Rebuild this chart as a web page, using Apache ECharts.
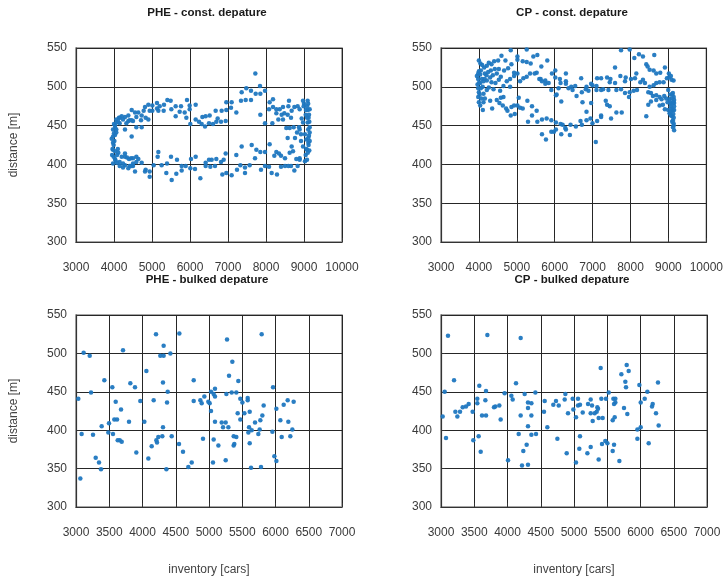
<!DOCTYPE html>
<html>
<head>
<meta charset="utf-8">
<script src="https://cdn.jsdelivr.net/npm/echarts@6/dist/echarts.min.js"></script>
<style>html,body{margin:0;padding:0;background:#fff;}#c{width:726px;height:577px;}</style>
</head>
<body>
<div id="c"></div>
<script>
const titles = ['PHE - const. depature', 'CP - const. depature', 'PHE - bulked depature', 'CP - bulked depature'];
const yName = 'distance [m]';
const xName = 'inventory [cars]';
const yTicks = [300, 350, 400, 450, 500, 550];
const xTicksConst = [3000, 4000, 5000, 6000, 7000, 8000, 9000, 10000];
const xTicksBulk = [3000, 3500, 4000, 4500, 5000, 5500, 6000, 6500, 7000];

const pheConst = [
[5921,483],[6149,477],[5991,476],[5991,471],[5763,475],[5860,467],[5623,475],[5491,482],[5404,483],[5316,477],
[5132,479],[5132,472],[5009,476],[4904,477],[4816,474],[5009,469],[4939,469],[4781,469],[5307,469],[5167,469],
[5202,475],[5623,462],[5728,468],[5904,460],[5509,471],[4465,470],[4553,467],[4640,467],[4728,463],[4588,461],
[4833,460],[4904,458],[4711,457],[4377,463],[4289,461],[4202,462],[4132,460],[4061,458],[4149,453],[4026,450],
[3974,445],[4061,454],[4237,458],[4412,457],[4500,456],[4588,448],[4728,448],[4325,453],[4377,456],[4465,457],
[6009,452],[6149,458],[6237,455],[6325,461],[6412,462],[6518,463],[6675,469],[6728,459],[6833,469],[6956,470],
[6939,456],[6816,455],[6693,455],[6605,452],[6500,453],[6395,449],[6307,452],[6956,480],[7096,480],[7079,473],
[7219,467],[7342,482],[7360,493],[7482,498],[7465,483],[7605,495],[7605,483],[7728,491],[7851,491],[7974,495],
[7842,501],[7719,517],[8096,480],[8184,484],[8184,474],[7851,464],[7974,453],[8167,453],[8079,471],[8272,471],
[8272,466],[8360,471],[8447,474],[8482,466],[8605,482],[8588,475],[8675,469],[8746,474],[8833,475],[8886,471],
[8974,482],[9096,482],[8991,475],[9079,475],[9149,471],[9132,464],[9044,464],[8939,459],[8974,454],[9096,454],
[9149,448],[8570,464],[8447,458],[8325,458],[8412,464],[8658,460],[8535,447],[8623,447],[8728,448],[8868,448],
[8886,445],[8570,434],[8763,434],[8816,441],[8921,439],[9026,439],[9061,432],[9114,428],[9149,441],[9114,434],
[8974,423],[8921,430],[9079,419],[9044,412],[9079,406],[9026,404],[8886,408],[8798,407],[8675,423],[8711,417],
[8623,415],[8500,408],[8395,411],[8342,414],[8272,416],[8219,411],[8096,426],[7974,416],[7851,416],[7746,419],
[7623,425],[7360,423],[7219,412],[6939,414],[6886,406],[6816,403],[6693,407],[6570,406],[6500,406],[6412,402],
[6149,410],[6026,407],[5886,398],[5781,398],[5658,406],[5500,410],[5395,401],[5254,399],[5149,410],[5167,416],
[5044,399],[4939,391],[4939,384],[4833,393],[4728,402],[4588,403],[4640,407],[4588,410],[4500,408],[4447,408],
[4395,407],[4500,401],[4500,398],[4412,398],[4289,399],[4237,401],[4149,403],[4079,402],[4026,407],[3974,401],
[3991,410],[4026,417],[3974,419],[3974,428],[3939,433],[3974,436],[4026,438],[4061,441],[4061,445],[4289,414],
[4289,410],[4342,409],[4465,398],[4377,395],[4237,396],[4149,398],[4553,391],[4816,391],[5377,389],[5518,380],
[5640,388],[5781,392],[6009,395],[6132,394],[6272,382],[6412,398],[6535,397],[6658,398],[6851,387],[6956,389],
[7096,386],[7237,393],[7325,399],[7447,396],[7447,389],[7570,399],[7711,408],[7868,393],[7974,398],[8079,397],
[8149,389],[8289,387],[8395,397],[8500,398],[8588,398],[8658,398],[8746,392],[8833,398],[8886,406],[4465,436],
[4289,445],[4114,415],[4202,410],[3960,420],[3990,425],[4010,430],[4000,440],[3950,412],[4040,405],[4080,412],
[4100,420],[4000,452],[4030,447],[4110,455],[4150,460],[9100,470],[9120,460],[9140,455],[9110,445],[9130,437],
[9120,425],[9140,418],[9100,415],[9060,420],[9150,430],[9080,460],[9050,470],[9000,478],[9110,478]
];

const cpConst = [
[4840,547],[5261,548],[5016,539],[5016,535],[5156,533],[5261,532],[5366,530],[5542,541],[5436,539],[5647,526],
[5804,534],[5524,518],[5629,510],[5752,508],[5840,505],[5927,517],[6015,521],[6015,512],[6137,510],[6155,505],
[6295,517],[6295,507],[6295,504],[6435,500],[6541,501],[6698,511],[6839,500],[6891,495],[6961,504],[7119,511],
[7102,501],[7224,511],[7224,496],[7382,512],[7470,510],[7452,506],[7592,525],[7732,514],[7873,512],[7855,507],
[8013,510],[8118,511],[8153,517],[7750,547],[7978,548],[8101,537],[8223,542],[8328,539],[8627,541],[8416,529],
[8451,526],[8504,522],[8609,521],[8679,517],[8784,518],[8907,525],[9012,517],[9065,514],[9135,508],[9082,509],
[9012,512],[8960,511],[8872,506],[8767,506],[8679,505],[8609,502],[8504,500],[8381,505],[8328,509],[8258,506],
[8171,496],[8083,495],[7978,493],[7960,487],[7855,492],[7750,497],[7627,496],[7592,505],[7417,496],[7277,497],
[7102,496],[6996,502],[6821,497],[6716,493],[6576,488],[6471,496],[6365,498],[5910,496],[6032,489],[6173,481],
[6102,498],[5752,504],[5664,507],[5594,510],[5471,517],[5349,517],[5261,513],[5173,511],[5086,507],[5016,517],
[4928,518],[4928,514],[4823,510],[4823,500],[4735,507],[4648,501],[4560,495],[4525,509],[4437,505],[4578,513],
[4665,521],[4770,524],[4858,529],[4700,534],[4595,540],[4507,534],[4402,533],[4332,529],[4262,531],[4209,527],
[4139,525],[4087,528],[4052,521],[3999,534],[3947,514],[3982,517],[4034,516],[4157,517],[4244,519],[4315,521],
[4420,523],[4525,523],[4472,517],[4367,515],[4297,512],[4209,508],[4122,507],[4034,505],[3964,503],[3982,498],
[3999,493],[3982,487],[3999,480],[4034,476],[4104,470],[4157,485],[4122,491],[4209,496],[4262,499],[4332,506],
[4385,497],[4297,482],[4350,472],[4472,483],[4578,486],[4648,487],[4630,476],[4542,479],[4718,472],[4753,469],
[4840,463],[4858,474],[4928,476],[4946,465],[5016,476],[5086,473],[5156,472],[5051,486],[5279,482],[5401,475],
[5524,469],[5401,463],[5296,455],[5542,455],[5664,458],[5787,459],[5910,457],[5910,442],[6032,454],[6032,445],
[6155,452],[6208,451],[6278,447],[6295,445],[6173,439],[6400,438],[6418,451],[6558,449],[6681,456],[6716,451],
[6839,457],[6944,459],[6996,453],[7119,456],[7224,463],[7224,461],[7347,482],[7382,477],[7452,475],[7487,459],
[7627,467],[7768,467],[7084,429],[5664,439],[5769,432],[5980,442],[6733,480],[6961,479],[6839,468],[6050,490],
[8469,493],[8539,492],[8591,488],[8679,489],[8767,487],[8819,484],[8890,488],[8942,485],[8977,480],[8854,477],
[8767,476],[8679,483],[8539,481],[8469,477],[8416,462],[8907,471],[8995,496],[8995,470],[9030,466],[9065,463],
[9100,462],[9117,457],[9135,453],[9140,450],[9150,444],[9117,492],[9140,487],[9150,483],[9150,479],[9150,475],
[9150,470],[9047,490],[9030,484],[9047,479],[9065,475],[9082,472],[9100,490],[9120,480],[9090,485],[9110,470],
[9130,465],[9080,478],[9100,455],[9120,448],[9060,468],[9140,460],[4000,505],[4050,498],[4080,510],[3980,510],
[4020,490],[4060,485],[4100,500],[4150,510],[4200,515],[4120,480],[4000,520],[4040,530]
];

const pheBulk = [
[4203,525],[4554,526],[5271,518],[5792,525],[3707,504],[4318,510],[3115,501],[3206,497],[4268,497],[4318,497],
[4419,500],[5351,489],[4058,477],[5301,471],[5441,464],[4770,465],[3426,465],[3546,456],[3817,461],[3887,456],
[4308,462],[4379,450],[3226,449],[3035,441],[3597,437],[3967,438],[4168,439],[4369,436],[3677,427],[3576,414],
[3617,414],[3797,411],[4028,411],[3386,405],[3496,409],[4308,404],[3085,395],[3256,394],[3486,397],[3556,395],
[3627,387],[3657,387],[3687,385],[4138,379],[4218,384],[4208,387],[4238,391],[4298,392],[4439,392],[4088,363],
[3907,371],[3296,364],[3346,358],[3376,349],[3065,337],[4359,349],[4549,382],[4609,372],[4689,352],[4740,358],
[4770,438],[4870,439],[4890,435],[4930,444],[4990,437],[5010,435],[5030,450],[5090,454],[5070,447],[5090,444],
[5261,447],[5341,449],[5411,449],[5471,441],[5502,436],[5582,442],[5582,439],[5030,425],[5090,411],[5191,410],
[5251,410],[5211,404],[5291,404],[5431,422],[5471,414],[5532,422],[5612,424],[5602,404],[5592,397],[5642,400],
[5692,410],[5772,413],[5802,419],[5762,401],[5742,395],[5822,432],[6013,428],[5963,456],[6073,413],[6123,433],
[6183,439],[6193,411],[6273,437],[6253,401],[5953,398],[6093,391],[6223,392],[4910,389],[5070,388],[5141,380],
[5251,361],[5060,358],[5371,392],[5411,391],[5371,380],[5381,382],[5612,383],[5632,351],[5782,352],[5983,366],
[6013,360]
];

const cpBulk = [
[3105,523],[3697,524],[4198,520],[5401,481],[5792,485],[5712,473],[5822,477],[5772,463],[5782,456],[5983,459],
[6263,462],[6103,450],[3196,465],[3576,458],[4128,461],[3055,450],[3677,451],[3957,448],[4058,445],[4078,440],
[4258,447],[4419,449],[4870,447],[3546,441],[3546,435],[3667,439],[3416,434],[3376,431],[3326,430],[3797,430],
[3817,431],[3877,432],[4308,436],[4359,435],[4308,429],[4559,438],[4729,438],[4689,433],[4770,432],[4860,440],
[4980,441],[5060,441],[5060,432],[5090,433],[5251,440],[5271,432],[5351,430],[5361,428],[5411,441],[5481,441],
[5522,449],[5592,441],[5622,441],[5622,436],[5602,434],[5752,429],[6003,436],[6063,441],[6183,434],[6173,431],
[3216,424],[3286,424],[3476,424],[3246,418],[3617,419],[3677,419],[3897,414],[4198,419],[4359,419],[4549,424],
[4910,422],[4990,427],[5030,417],[5131,423],[5211,434],[5251,422],[5311,422],[5281,412],[5341,424],[5371,416],
[5431,416],[5582,413],[5612,417],[5802,421],[6233,422],[6273,406],[3025,418],[4308,405],[4599,404],[5953,401],
[6003,404],[3075,390],[3486,387],[3566,392],[3597,372],[4168,395],[4288,381],[4359,394],[4429,395],[4238,373],
[4008,361],[4218,354],[4308,355],[4750,389],[4890,370],[5030,358],[5080,376],[5090,392],[5201,370],[5251,378],
[5371,362],[5421,382],[5471,386],[5502,383],[5582,373],[5602,381],[5682,360],[5953,389],[6123,383]
];

const panels = [
  {data: pheConst, xt: xTicksConst, left: 76, top: 48, yLabel: true, xLabel: false},
  {data: cpConst, xt: xTicksConst, left: 441, top: 48, yLabel: false, xLabel: false},
  {data: pheBulk, xt: xTicksBulk, left: 76, top: 315, yLabel: true, xLabel: true},
  {data: cpBulk, xt: xTicksBulk, left: 441, top: 315, yLabel: false, xLabel: true}
];
const W = 266, H = 194;
const FONT = 'Liberation Sans, Arial, sans-serif';
const plain = v => String(v);

const grid = [], xAxis = [], yAxis = [], series = [], graphic = [];
panels.forEach((p, i) => {
  grid.push({left: p.left, top: p.top, width: W, height: H, show: true, borderColor: '#8a8a8a', borderWidth: 1.5, backgroundColor: '#fff'});
  xAxis.push({
    gridIndex: i, type: 'value', min: p.xt[0], max: p.xt[p.xt.length - 1], interval: p.xt[1] - p.xt[0],
    name: p.xLabel ? xName : '', nameLocation: 'middle', nameGap: 57,
    nameTextStyle: {fontFamily: FONT, fontSize: 12, color: '#444'},
    axisLine: {show: true, onZero: false, lineStyle: {color: '#333', width: 1.2}},
    axisTick: {show: true, inside: true, length: 4, lineStyle: {color: '#333'}},
    axisLabel: {fontFamily: FONT, fontSize: 12, color: '#3a3a3a', margin: 20, formatter: plain},
    splitLine: {show: true, lineStyle: {color: '#262626', width: 1}}
  });
  yAxis.push({
    gridIndex: i, type: 'value', min: yTicks[0], max: yTicks[yTicks.length - 1], interval: yTicks[1] - yTicks[0],
    name: p.yLabel ? yName : '', nameLocation: 'middle', nameGap: 56,
    nameTextStyle: {fontFamily: FONT, fontSize: 12, color: '#444'},
    axisLine: {show: true, onZero: false, lineStyle: {color: '#333', width: 1.2}},
    axisTick: {show: true, inside: true, length: 4, lineStyle: {color: '#333'}},
    axisLabel: {fontFamily: FONT, fontSize: 12, color: '#3a3a3a', margin: 9, formatter: plain},
    splitLine: {show: true, lineStyle: {color: '#262626', width: 1}}
  });
  series.push({
    type: 'scatter', xAxisIndex: i, yAxisIndex: i, data: p.data,
    symbolSize: 4.5, itemStyle: {color: '#1f77c0', opacity: 0.95},
    emphasis: {disabled: true}, animation: false
  });
  graphic.push({
    type: 'text', x: p.left + W / 2 - 2, y: p.top - 35,
    style: {text: titles[i], fontFamily: FONT, fontSize: 11.5, fontWeight: 'bold', fill: '#1a1a1a', align: 'center', verticalAlign: 'middle'}
  });
});

const chart = echarts.init(document.getElementById('c'), null, {renderer: 'canvas'});
chart.setOption({animation: false, grid, xAxis, yAxis, series, graphic});
</script>
</body>
</html>
